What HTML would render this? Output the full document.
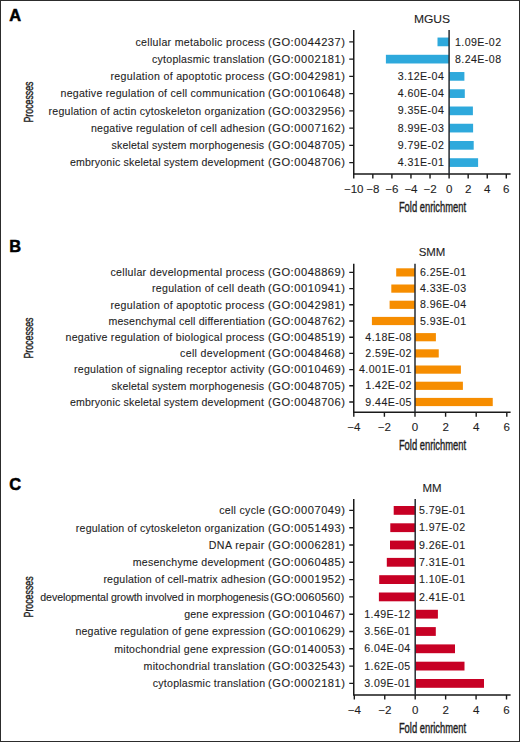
<!DOCTYPE html>
<html><head><meta charset="utf-8"><style>
html,body{margin:0;padding:0;background:#fff;}
body{width:520px;height:742px;overflow:hidden;position:relative;}
.frame{position:absolute;left:0;top:0;width:518px;height:740px;border:1px solid #2c2c2c;}
svg{position:absolute;left:0;top:0;font-family:"Liberation Sans", sans-serif;}
text{fill:#1e1e1e;stroke:#1e1e1e;stroke-width:0.1px;}
text.b{stroke:#000;stroke-width:0.5px;fill:#000;}
text.cd{stroke-width:0.4px;}
</style></head><body>
<div class="frame"></div>
<svg width="520" height="742" viewBox="0 0 520 742">
<text class="b" x="9.2" y="21.1" font-size="16.4" font-weight="bold" fill="#000">A</text>
<text transform="translate(432,22.5) scale(1.14,1)" text-anchor="middle" font-size="10.6">MGUS</text>
<text transform="translate(32.7,102) rotate(-90)" text-anchor="middle" font-size="13.4" textLength="41.0" lengthAdjust="spacingAndGlyphs" class="cd">Processes</text>
<rect x="437.5" y="37.55" width="11.6" height="8.7" fill="#2ea9dc"/>
<rect x="385.9" y="54.79" width="63.2" height="8.7" fill="#2ea9dc"/>
<rect x="449.1" y="72.03" width="15.3" height="8.7" fill="#2ea9dc"/>
<rect x="449.1" y="89.27" width="15.7" height="8.7" fill="#2ea9dc"/>
<rect x="449.1" y="106.51" width="23.8" height="8.7" fill="#2ea9dc"/>
<rect x="449.1" y="123.75" width="24" height="8.7" fill="#2ea9dc"/>
<rect x="449.1" y="140.99" width="24.6" height="8.7" fill="#2ea9dc"/>
<rect x="449.1" y="158.23" width="29" height="8.7" fill="#2ea9dc"/>
<path d="M353.75 30V174H510.6" fill="none" stroke="#1a1a1a" stroke-width="1.5"/>
<line x1="449.1" y1="30" x2="449.1" y2="174" stroke="#262b31" stroke-width="1.5"/>
<path d="M349.25 41.9H353.75M349.25 59.14H353.75M349.25 76.38H353.75M349.25 93.62H353.75M349.25 110.86H353.75M349.25 128.1H353.75M349.25 145.34H353.75M349.25 162.58H353.75M353.75 174V178.5M372.82 174V178.5M391.89 174V178.5M410.96 174V178.5M430.03 174V178.5M449.1 174V178.5M468.17 174V178.5M487.24 174V178.5M506.31 174V178.5" fill="none" stroke="#1a1a1a" stroke-width="1.4"/>
<text transform="translate(353.75,193) scale(1.05,1)" text-anchor="middle" font-size="11.0">−10</text>
<text transform="translate(372.82,193) scale(1.05,1)" text-anchor="middle" font-size="11.0">−8</text>
<text transform="translate(391.89,193) scale(1.05,1)" text-anchor="middle" font-size="11.0">−6</text>
<text transform="translate(410.96,193) scale(1.05,1)" text-anchor="middle" font-size="11.0">−4</text>
<text transform="translate(430.03,193) scale(1.05,1)" text-anchor="middle" font-size="11.0">−2</text>
<text transform="translate(449.1,193) scale(1.05,1)" text-anchor="middle" font-size="11.0">0</text>
<text transform="translate(468.17,193) scale(1.05,1)" text-anchor="middle" font-size="11.0">2</text>
<text transform="translate(487.24,193) scale(1.05,1)" text-anchor="middle" font-size="11.0">4</text>
<text transform="translate(506.31,193) scale(1.05,1)" text-anchor="middle" font-size="11.0">6</text>
<text transform="translate(135.50,45.7) scale(1.0,1)" font-size="10.6" letter-spacing="0.298">cellular metabolic process</text>
<text transform="translate(268.00,45.7) scale(1.05,1)" font-size="10.6" letter-spacing="0.513">(GO:0044237)</text>
<text transform="translate(455,45.5) scale(1.04,1)" font-size="10.2" letter-spacing="0.42">1.09E-02</text>
<text transform="translate(152.00,62.94) scale(1.0,1)" font-size="10.6" letter-spacing="0.241">cytoplasmic translation</text>
<text transform="translate(268.00,62.94) scale(1.05,1)" font-size="10.6" letter-spacing="0.513">(GO:0002181)</text>
<text transform="translate(455,62.74) scale(1.04,1)" font-size="10.2" letter-spacing="0.42">8.24E-08</text>
<text transform="translate(110.50,80.18) scale(1.0,1)" font-size="10.6" letter-spacing="0.315">regulation of apoptotic process</text>
<text transform="translate(268.00,80.18) scale(1.05,1)" font-size="10.6" letter-spacing="0.513">(GO:0042981)</text>
<text transform="translate(444.24,79.98) scale(1.04,1)" text-anchor="end" font-size="10.2" letter-spacing="0.42">3.12E-04</text>
<text transform="translate(60.50,97.42) scale(1.0,1)" font-size="10.6" letter-spacing="0.249">negative regulation of cell communication</text>
<text transform="translate(268.00,97.42) scale(1.05,1)" font-size="10.6" letter-spacing="0.513">(GO:0010648)</text>
<text transform="translate(444.24,97.22) scale(1.04,1)" text-anchor="end" font-size="10.2" letter-spacing="0.42">4.60E-04</text>
<text transform="translate(48.50,114.66) scale(1.0,1)" font-size="10.6" letter-spacing="0.231">regulation of actin cytoskeleton organization</text>
<text transform="translate(268.00,114.66) scale(1.05,1)" font-size="10.6" letter-spacing="0.513">(GO:0032956)</text>
<text transform="translate(444.24,114.46) scale(1.04,1)" text-anchor="end" font-size="10.2" letter-spacing="0.42">9.35E-04</text>
<text transform="translate(91.00,131.9) scale(1.0,1)" font-size="10.6" letter-spacing="0.220">negative regulation of cell adhesion</text>
<text transform="translate(268.00,131.9) scale(1.05,1)" font-size="10.6" letter-spacing="0.513">(GO:0007162)</text>
<text transform="translate(444.24,131.7) scale(1.04,1)" text-anchor="end" font-size="10.2" letter-spacing="0.42">8.99E-03</text>
<text transform="translate(111.50,149.14) scale(1.0,1)" font-size="10.6" letter-spacing="0.173">skeletal system morphogenesis</text>
<text transform="translate(268.00,149.14) scale(1.05,1)" font-size="10.6" letter-spacing="0.513">(GO:0048705)</text>
<text transform="translate(444.24,148.94) scale(1.04,1)" text-anchor="end" font-size="10.2" letter-spacing="0.42">9.79E-02</text>
<text transform="translate(70.00,166.38) scale(1.0,1)" font-size="10.6" letter-spacing="0.167">embryonic skeletal system development</text>
<text transform="translate(268.00,166.38) scale(1.05,1)" font-size="10.6" letter-spacing="0.513">(GO:0048706)</text>
<text transform="translate(444.24,166.18) scale(1.04,1)" text-anchor="end" font-size="10.2" letter-spacing="0.42">4.31E-01</text>
<text x="432.5" y="211.7" text-anchor="middle" font-size="14.0" textLength="67.2" lengthAdjust="spacingAndGlyphs" class="cd">Fold enrichment</text>
<text class="b" x="9.2" y="251.5" font-size="16.4" font-weight="bold" fill="#000">B</text>
<text transform="translate(432,256.25) scale(1.08,1)" text-anchor="middle" font-size="10.6">SMM</text>
<text transform="translate(32.7,338.05) rotate(-90)" text-anchor="middle" font-size="13.4" textLength="41.0" lengthAdjust="spacingAndGlyphs" class="cd">Processes</text>
<rect x="396.2" y="268.3" width="18.8" height="8.2" fill="#f68d00"/>
<rect x="391.3" y="284.5" width="23.7" height="8.2" fill="#f68d00"/>
<rect x="389.6" y="300.7" width="25.4" height="8.2" fill="#f68d00"/>
<rect x="371.9" y="316.9" width="43.1" height="8.2" fill="#f68d00"/>
<rect x="415" y="333.1" width="20.9" height="8.2" fill="#f68d00"/>
<rect x="415" y="349.3" width="23.75" height="8.2" fill="#f68d00"/>
<rect x="415" y="365.5" width="45.9" height="8.2" fill="#f68d00"/>
<rect x="415" y="381.7" width="47.9" height="8.2" fill="#f68d00"/>
<rect x="415" y="397.9" width="77.75" height="8.2" fill="#f68d00"/>
<path d="M353.75 263.8V412.3H510.6" fill="none" stroke="#1a1a1a" stroke-width="1.5"/>
<line x1="415" y1="263.8" x2="415" y2="412.3" stroke="#262b31" stroke-width="1.5"/>
<path d="M349.25 272.4H353.75M349.25 288.6H353.75M349.25 304.8H353.75M349.25 321H353.75M349.25 337.2H353.75M349.25 353.4H353.75M349.25 369.6H353.75M349.25 385.8H353.75M349.25 402H353.75M353.8 412.3V416.8M384.4 412.3V416.8M415 412.3V416.8M445.6 412.3V416.8M476.2 412.3V416.8M506.8 412.3V416.8" fill="none" stroke="#1a1a1a" stroke-width="1.4"/>
<text transform="translate(353.8,431) scale(1.05,1)" text-anchor="middle" font-size="11.0">−4</text>
<text transform="translate(384.4,431) scale(1.05,1)" text-anchor="middle" font-size="11.0">−2</text>
<text transform="translate(415,431) scale(1.05,1)" text-anchor="middle" font-size="11.0">0</text>
<text transform="translate(445.6,431) scale(1.05,1)" text-anchor="middle" font-size="11.0">2</text>
<text transform="translate(476.2,431) scale(1.05,1)" text-anchor="middle" font-size="11.0">4</text>
<text transform="translate(506.8,431) scale(1.05,1)" text-anchor="middle" font-size="11.0">6</text>
<text transform="translate(110.50,276.2) scale(1.0,1)" font-size="10.6" letter-spacing="0.298">cellular developmental process</text>
<text transform="translate(268.00,276.2) scale(1.05,1)" font-size="10.6" letter-spacing="0.513">(GO:0048869)</text>
<text transform="translate(420,276) scale(1.04,1)" font-size="10.2" letter-spacing="0.42">6.25E-01</text>
<text transform="translate(152.00,292.4) scale(1.0,1)" font-size="10.6" letter-spacing="0.287">regulation of cell death</text>
<text transform="translate(268.00,292.4) scale(1.05,1)" font-size="10.6" letter-spacing="0.513">(GO:0010941)</text>
<text transform="translate(420,292.2) scale(1.04,1)" font-size="10.2" letter-spacing="0.42">4.33E-03</text>
<text transform="translate(110.50,308.6) scale(1.0,1)" font-size="10.6" letter-spacing="0.315">regulation of apoptotic process</text>
<text transform="translate(268.00,308.6) scale(1.05,1)" font-size="10.6" letter-spacing="0.513">(GO:0042981)</text>
<text transform="translate(420,308.4) scale(1.04,1)" font-size="10.2" letter-spacing="0.42">8.96E-04</text>
<text transform="translate(108.50,324.8) scale(1.0,1)" font-size="10.6" letter-spacing="0.185">mesenchymal cell differentiation</text>
<text transform="translate(268.00,324.8) scale(1.05,1)" font-size="10.6" letter-spacing="0.513">(GO:0048762)</text>
<text transform="translate(420,324.6) scale(1.04,1)" font-size="10.2" letter-spacing="0.42">5.93E-01</text>
<text transform="translate(65.50,341) scale(1.0,1)" font-size="10.6" letter-spacing="0.261">negative regulation of biological process</text>
<text transform="translate(268.00,341) scale(1.05,1)" font-size="10.6" letter-spacing="0.513">(GO:0048519)</text>
<text transform="translate(411.84,340.8) scale(1.04,1)" text-anchor="end" font-size="10.2" letter-spacing="0.42">4.18E-08</text>
<text transform="translate(180.00,357.2) scale(1.0,1)" font-size="10.6" letter-spacing="0.347">cell development</text>
<text transform="translate(268.00,357.2) scale(1.05,1)" font-size="10.6" letter-spacing="0.513">(GO:0048468)</text>
<text transform="translate(411.84,357) scale(1.04,1)" text-anchor="end" font-size="10.2" letter-spacing="0.42">2.59E-02</text>
<text transform="translate(74.00,373.4) scale(1.0,1)" font-size="10.6" letter-spacing="0.255">regulation of signaling receptor activity</text>
<text transform="translate(268.00,373.4) scale(1.05,1)" font-size="10.6" letter-spacing="0.513">(GO:0010469)</text>
<text transform="translate(411.84,373.2) scale(1.04,1)" text-anchor="end" font-size="10.2" letter-spacing="0.42">4.001E-01</text>
<text transform="translate(111.50,389.6) scale(1.0,1)" font-size="10.6" letter-spacing="0.173">skeletal system morphogenesis</text>
<text transform="translate(268.00,389.6) scale(1.05,1)" font-size="10.6" letter-spacing="0.513">(GO:0048705)</text>
<text transform="translate(411.84,389.4) scale(1.04,1)" text-anchor="end" font-size="10.2" letter-spacing="0.42">1.42E-02</text>
<text transform="translate(70.00,405.8) scale(1.0,1)" font-size="10.6" letter-spacing="0.167">embryonic skeletal system development</text>
<text transform="translate(268.00,405.8) scale(1.05,1)" font-size="10.6" letter-spacing="0.513">(GO:0048706)</text>
<text transform="translate(411.84,405.6) scale(1.04,1)" text-anchor="end" font-size="10.2" letter-spacing="0.42">9.44E-05</text>
<text x="432.5" y="450" text-anchor="middle" font-size="14.0" textLength="67.2" lengthAdjust="spacingAndGlyphs" class="cd">Fold enrichment</text>
<text class="b" x="9.2" y="490" font-size="16.4" font-weight="bold" fill="#000">C</text>
<text transform="translate(432,491.5) scale(1.08,1)" text-anchor="middle" font-size="10.6">MM</text>
<text transform="translate(32.7,596.95) rotate(-90)" text-anchor="middle" font-size="13.4" textLength="41.0" lengthAdjust="spacingAndGlyphs" class="cd">Processes</text>
<rect x="393.7" y="506" width="21.5" height="8.8" fill="#c70024"/>
<rect x="390.3" y="523.3" width="24.9" height="8.8" fill="#c70024"/>
<rect x="390" y="540.6" width="25.2" height="8.8" fill="#c70024"/>
<rect x="386.8" y="557.9" width="28.4" height="8.8" fill="#c70024"/>
<rect x="379.2" y="575.2" width="36" height="8.8" fill="#c70024"/>
<rect x="378.9" y="592.5" width="36.3" height="8.8" fill="#c70024"/>
<rect x="415.2" y="609.8" width="22.7" height="8.8" fill="#c70024"/>
<rect x="415.2" y="627.1" width="20.6" height="8.8" fill="#c70024"/>
<rect x="415.2" y="644.4" width="39.8" height="8.8" fill="#c70024"/>
<rect x="415.2" y="661.7" width="49.3" height="8.8" fill="#c70024"/>
<rect x="415.2" y="679" width="68.8" height="8.8" fill="#c70024"/>
<path d="M353.75 498.9V695H510.6" fill="none" stroke="#1a1a1a" stroke-width="1.5"/>
<line x1="415.2" y1="498.9" x2="415.2" y2="695" stroke="#262b31" stroke-width="1.5"/>
<path d="M349.25 510.4H353.75M349.25 527.7H353.75M349.25 545H353.75M349.25 562.3H353.75M349.25 579.6H353.75M349.25 596.9H353.75M349.25 614.2H353.75M349.25 631.5H353.75M349.25 648.8H353.75M349.25 666.1H353.75M349.25 683.4H353.75M354.32 695V699.5M384.76 695V699.5M415.2 695V699.5M445.64 695V699.5M476.08 695V699.5M506.52 695V699.5" fill="none" stroke="#1a1a1a" stroke-width="1.4"/>
<text transform="translate(354.32,713.5) scale(1.05,1)" text-anchor="middle" font-size="11.0">−4</text>
<text transform="translate(384.76,713.5) scale(1.05,1)" text-anchor="middle" font-size="11.0">−2</text>
<text transform="translate(415.2,713.5) scale(1.05,1)" text-anchor="middle" font-size="11.0">0</text>
<text transform="translate(445.64,713.5) scale(1.05,1)" text-anchor="middle" font-size="11.0">2</text>
<text transform="translate(476.08,713.5) scale(1.05,1)" text-anchor="middle" font-size="11.0">4</text>
<text transform="translate(506.52,713.5) scale(1.05,1)" text-anchor="middle" font-size="11.0">6</text>
<text transform="translate(219.20,514.2) scale(1.0,1)" font-size="10.6" letter-spacing="0.289">cell cycle</text>
<text transform="translate(268.00,514.2) scale(1.05,1)" font-size="10.6" letter-spacing="0.513">(GO:0007049)</text>
<text transform="translate(419,514) scale(1.04,1)" font-size="10.2" letter-spacing="0.42">5.79E-01</text>
<text transform="translate(75.80,531.5) scale(1.0,1)" font-size="10.6" letter-spacing="0.208">regulation of cytoskeleton organization</text>
<text transform="translate(268.00,531.5) scale(1.05,1)" font-size="10.6" letter-spacing="0.513">(GO:0051493)</text>
<text transform="translate(419,531.3) scale(1.04,1)" font-size="10.2" letter-spacing="0.42">1.97E-02</text>
<text transform="translate(208.80,548.8) scale(1.0,1)" font-size="10.6" letter-spacing="0.411">DNA repair</text>
<text transform="translate(268.00,548.8) scale(1.05,1)" font-size="10.6" letter-spacing="0.513">(GO:0006281)</text>
<text transform="translate(419,548.6) scale(1.04,1)" font-size="10.2" letter-spacing="0.42">9.26E-01</text>
<text transform="translate(132.80,566.1) scale(1.0,1)" font-size="10.6" letter-spacing="0.229">mesenchyme development</text>
<text transform="translate(268.00,566.1) scale(1.05,1)" font-size="10.6" letter-spacing="0.513">(GO:0060485)</text>
<text transform="translate(419,565.9) scale(1.04,1)" font-size="10.2" letter-spacing="0.42">7.31E-01</text>
<text transform="translate(103.40,583.4) scale(1.0,1)" font-size="10.6" letter-spacing="0.197">regulation of cell-matrix adhesion</text>
<text transform="translate(268.00,583.4) scale(1.05,1)" font-size="10.6" letter-spacing="0.513">(GO:0001952)</text>
<text transform="translate(419,583.2) scale(1.04,1)" font-size="10.2" letter-spacing="0.42">1.10E-01</text>
<text transform="translate(40.30,600.7) scale(1.0,1)" font-size="10.6" letter-spacing="-0.078">developmental growth involved in morphogenesis</text>
<text transform="translate(270.30,600.7) scale(1.05,1)" font-size="10.6" letter-spacing="0.244">(GO:0060560)</text>
<text transform="translate(419,600.5) scale(1.04,1)" font-size="10.2" letter-spacing="0.42">2.41E-01</text>
<text transform="translate(184.20,618) scale(1.0,1)" font-size="10.6" letter-spacing="0.186">gene expression</text>
<text transform="translate(268.00,618) scale(1.05,1)" font-size="10.6" letter-spacing="0.513">(GO:0010467)</text>
<text transform="translate(410.69,617.8) scale(1.04,1)" text-anchor="end" font-size="10.2" letter-spacing="0.42">1.49E-12</text>
<text transform="translate(75.40,635.3) scale(1.0,1)" font-size="10.6" letter-spacing="0.208">negative regulation of gene expression</text>
<text transform="translate(268.00,635.3) scale(1.05,1)" font-size="10.6" letter-spacing="0.513">(GO:0010629)</text>
<text transform="translate(410.69,635.1) scale(1.04,1)" text-anchor="end" font-size="10.2" letter-spacing="0.42">3.56E-01</text>
<text transform="translate(114.20,652.6) scale(1.0,1)" font-size="10.6" letter-spacing="0.261">mitochondrial gene expression</text>
<text transform="translate(268.00,652.6) scale(1.05,1)" font-size="10.6" letter-spacing="0.513">(GO:0140053)</text>
<text transform="translate(410.69,652.4) scale(1.04,1)" text-anchor="end" font-size="10.2" letter-spacing="0.42">6.04E-04</text>
<text transform="translate(143.60,669.9) scale(1.0,1)" font-size="10.6" letter-spacing="0.271">mitochondrial translation</text>
<text transform="translate(268.00,669.9) scale(1.05,1)" font-size="10.6" letter-spacing="0.513">(GO:0032543)</text>
<text transform="translate(410.69,669.7) scale(1.04,1)" text-anchor="end" font-size="10.2" letter-spacing="0.42">1.62E-05</text>
<text transform="translate(152.80,687.2) scale(1.0,1)" font-size="10.6" letter-spacing="0.232">cytoplasmic translation</text>
<text transform="translate(268.00,687.2) scale(1.05,1)" font-size="10.6" letter-spacing="0.513">(GO:0002181)</text>
<text transform="translate(410.69,687) scale(1.04,1)" text-anchor="end" font-size="10.2" letter-spacing="0.42">3.09E-01</text>
<text x="432.5" y="732.75" text-anchor="middle" font-size="14.0" textLength="67.2" lengthAdjust="spacingAndGlyphs" class="cd">Fold enrichment</text>
</svg>
</body></html>
